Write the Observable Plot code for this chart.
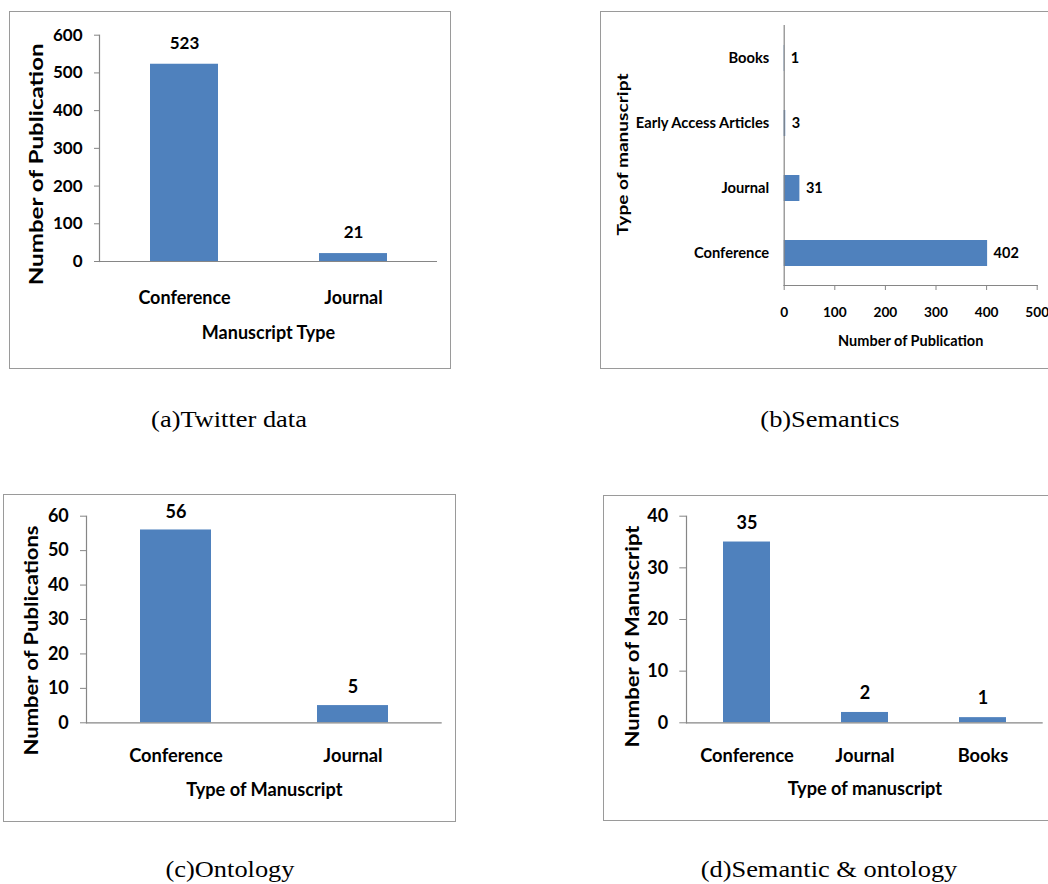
<!DOCTYPE html>
<html>
<head>
<meta charset="utf-8">
<script src="https://cdn.jsdelivr.net/npm/d3@7"></script>
<script src="https://cdn.jsdelivr.net/npm/@observablehq/plot@0.6"></script>
<style>
  html, body { margin: 0; padding: 0; background: white; }
  #root { position: relative; width: 1048px; height: 884px; overflow: hidden; background: white; }
  .panel { position: absolute; }
  .panel svg { display: block; max-width: none !important; }
  .border { position: absolute; box-sizing: border-box; border: 1.3px solid #9a9a9a; pointer-events: none; }
  .caption { position: absolute; width: 400px; text-align: center; font-family: "Liberation Serif", "Times New Roman", serif; font-size: 24px; line-height: 24px; color: #000; transform: scaleX(1.1); white-space: nowrap; }
</style>
</head>
<body>
<div id="root"></div>
<script>
// ---------- data ----------
const twitterTypes = ["Conference", "Journal"];
const twitterCounts = [523, 21];
const twitterTicks = [0, 100, 200, 300, 400, 500, 600];

const semanticsTypes = ["Books", "Early Access Articles", "Journal", "Conference"];
const semanticsCounts = [1, 3, 31, 402];
const semanticsTicks = [0, 100, 200, 300, 400, 500];

const ontologyTypes = ["Conference", "Journal"];
const ontologyCounts = [56, 5];
const ontologyTicks = [0, 10, 20, 30, 40, 50, 60];

const semOntTypes = ["Conference", "Journal", "Books"];
const semOntCounts = [35, 2, 1];
const semOntTicks = [0, 10, 20, 30, 40];

const captions = ["(a)Twitter data", "(b)Semantics", "(c)Ontology", "(d)Semantic & ontology"];

const BAR = "#4F81BD";
const AXIS = "#868686";
const FONT = "Lato, 'Open Sans', sans-serif";

const root = document.getElementById("root");

function place(svg, left, top, w, h) {
  const div = document.createElement("div");
  div.className = "panel";
  div.style.left = left + "px";
  div.style.top = top + "px";
  div.style.width = w + "px";
  div.style.height = h + "px";
  div.appendChild(svg);
  root.appendChild(div);
}
function border(left, top, w, h) {
  const b = document.createElement("div");
  b.className = "border";
  b.style.left = left + "px";
  b.style.top = top + "px";
  b.style.width = w + "px";
  b.style.height = h + "px";
  root.appendChild(b);
}
function stretch(svg, label, len) {
  d3.select(svg).selectAll("text")
    .filter(function () { return this.textContent === label; })
    .attr("textLength", len)
    .attr("lengthAdjust", "spacingAndGlyphs");
}

function vbar(o) {
  const data = o.types.map((t, i) => ({type: t, n: o.counts[i]}));
  const svg = Plot.plot({
    width: o.w, height: o.h,
    marginLeft: o.mL, marginRight: o.mR, marginTop: o.mT, marginBottom: o.mB,
    style: {fontFamily: FONT, fontWeight: "bold", fontSize: o.fs + "px", color: "black", background: "transparent", overflow: "visible"},
    x: {domain: o.types, paddingInner: 0.6, paddingOuter: 0.3, label: null},
    y: {domain: [0, o.ticks[o.ticks.length - 1]], label: null},
    marks: [
      Plot.barY(data, {x: "type", y: "n", fill: BAR}),
      Plot.ruleY([0], {stroke: AXIS, strokeWidth: 1.2}),
      Plot.frame({anchor: "left", stroke: AXIS, strokeWidth: 1.2}),
      Plot.axisY(o.ticks, {tickSize: o.yTickSize, tickPadding: o.yTickPad, stroke: AXIS, label: null}),
      Plot.axisX({tickSize: 0, tickPadding: o.xTickPad, label: null, fontSize: o.catFs}),
      Plot.text(data, {x: "type", y: "n", text: d => String(d.n), dy: o.valueDy, lineAnchor: "middle"}),
      Plot.text([o.xTitle], {frameAnchor: "bottom", dy: o.xTitleDy, lineAnchor: "middle", text: d => d, fontSize: o.titleFs}),
      // rotated title: anchored at its start (bottom end), stretched to the reference length
      Plot.text([o.yTitle], {frameAnchor: "left", dx: o.yTitleDx, dy: o.yTitleDy + o.yTitleLen / 2, rotate: -90, textAnchor: "start", lineAnchor: "middle", text: d => d, fontSize: o.titleFs})
    ]
  });
  stretch(svg, o.yTitle, o.yTitleLen);
  return svg;
}

// (a) Twitter data
border(9, 11, 442, 358);
place(vbar({
  types: twitterTypes, counts: twitterCounts, ticks: twitterTicks,
  w: 442, h: 358, mL: 90, mR: 14, mT: 23.7, mB: 108,
  fs: 17, catFs: 18, titleFs: 18, yTickSize: 5, yTickPad: 12, xTickPad: 29.5,
  valueDy: -21,
  xTitle: "Manuscript Type", xTitleDy: 72,
  yTitle: "Number of Publication", yTitleDx: -62, yTitleDy: 16, yTitleLen: 242
}), 9, 11, 442, 358);

// (c) Ontology
border(3, 494, 453, 328);
place(vbar({
  types: ontologyTypes, counts: ontologyCounts, ticks: ontologyTicks,
  w: 453, h: 328, mL: 83, mR: 14.3, mT: 21.7, mB: 99.7,
  fs: 18, catFs: 18.3, titleFs: 18.2, yTickSize: 6, yTickPad: 11.7, xTickPad: 26,
  valueDy: -18,
  xTitle: "Type of Manuscript", xTitleDy: 67,
  yTitle: "Number of Publications", yTitleDx: -54.3, yTitleDy: 21, yTitleLen: 230
}), 3, 494, 453, 328);

// (d) Semantic & ontology
border(603, 495, 460, 326);
place(vbar({
  types: semOntTypes, counts: semOntCounts, ticks: semOntTicks,
  w: 460, h: 326, mL: 83, mR: 20.3, mT: 20.7, mB: 98.7,
  fs: 18, catFs: 18.3, titleFs: 18.2, yTickSize: 6.7, yTickPad: 11.7, xTickPad: 26,
  valueDy: -19,
  xTitle: "Type of manuscript", xTitleDy: 66.7,
  yTitle: "Number of Manuscript", yTitleDx: -53, yTitleDy: 17, yTitleLen: 222
}), 603, 495, 460, 326);

// (b) Semantics (horizontal bars)
{
  const data = semanticsTypes.map((t, i) => ({type: t, n: semanticsCounts[i]}));
  const xTitle = "Number of Publication";
  const yTitle = "Type of manuscript";
  const yLen = 162;
  const svg = Plot.plot({
    width: 460, height: 358,
    marginLeft: 183.7, marginRight: 23.3, marginTop: 14, marginBottom: 84,
    style: {fontFamily: FONT, fontWeight: "bold", fontSize: "13.7px", color: "black", background: "transparent", overflow: "visible"},
    x: {domain: [0, 500], label: null},
    y: {domain: semanticsTypes, paddingInner: 0.6, paddingOuter: 0.3, label: null},
    marks: [
      Plot.barX(data, {y: "type", x: "n", fill: BAR}),
      Plot.frame({anchor: "left", stroke: AXIS, strokeWidth: 1.2}),
      Plot.frame({anchor: "bottom", stroke: AXIS, strokeWidth: 1.2}),
      Plot.axisX(semanticsTicks, {tickSize: 5, tickPadding: 16.8, stroke: AXIS, label: null}),
      Plot.axisY({tickSize: 0, tickPadding: 15, label: null, fontSize: 14.7}),
      Plot.text(data, {y: "type", x: "n", text: d => String(d.n), dx: 6, textAnchor: "start", fontSize: 14.5}),
      Plot.text([xTitle], {frameAnchor: "bottom", dy: 55.7, lineAnchor: "middle", text: d => d, fontSize: 14.5}),
      Plot.text([yTitle], {frameAnchor: "left", dx: -160.7, dy: -1 + yLen / 2, rotate: -90, textAnchor: "start", lineAnchor: "middle", text: d => d, fontSize: 14.5})
    ]
  });
  stretch(svg, yTitle, yLen);
  border(600, 11, 460, 358);
  place(svg, 600, 11, 460, 358);
}

// captions
const capPos = [[229, 419], [830, 419], [230, 869], [829, 869]];
captions.forEach((c, i) => {
  const d = document.createElement("div");
  d.className = "caption";
  d.textContent = c;
  d.style.left = (capPos[i][0] - 200) + "px";
  d.style.top = (capPos[i][1] - 12) + "px";
  root.appendChild(d);
});
</script>
</body>
</html>
